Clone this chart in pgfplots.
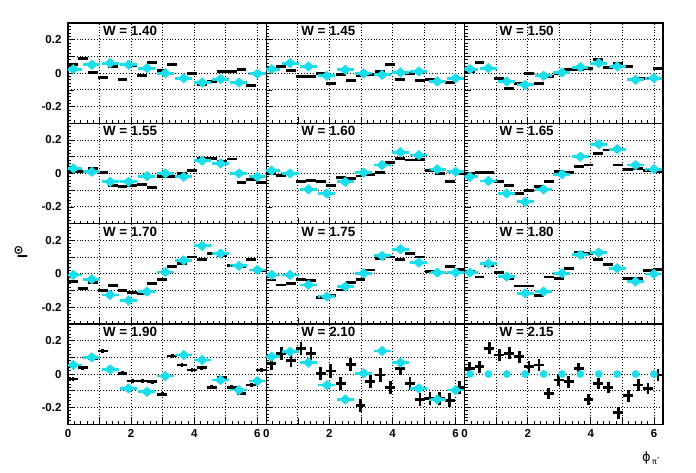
\documentclass[border=0pt]{standalone}
\usepackage{fontspec}
\setmainfont{Liberation Sans}
\newfontfamily\dejavu{DejaVu Sans}
\usepackage{pgfplots}
\pgfplotsset{compat=1.18}
\usepackage{pgfplotstable}
\usepgfplotslibrary{groupplots}

\definecolor{rootcyan}{RGB}{25,222,235}

% measured points, 20 bins in phi
\pgfplotstableread{
phi    w140   w145   w150   w155   w160   w165   w170   w175   w180   w190   w210   w215
0.157  0.054  0.030  0.010  0.010  0.000  0.000 -0.047 -0.037  0.013 -0.030  0.064  0.035
0.471  0.090  0.040  0.064  0.010 -0.010  0.007 -0.087 -0.067 -0.020  0.038  0.124  0.044
0.785  0.006  0.016  0.030  0.030  0.000  0.007 -0.050 -0.057  0.050  0.090  0.080  0.154
1.100 -0.024 -0.020 -0.030  0.006 -0.050 -0.050 -0.100 -0.033  0.007  0.138  0.154  0.114
1.414  0.040 -0.020 -0.090 -0.070 -0.040 -0.070 -0.070 -0.040 -0.027  0.030  0.124  0.124
1.728 -0.036  0.000 -0.060 -0.080 -0.050 -0.120 -0.100 -0.140 -0.073  0.004  0.004  0.104
2.042  0.045 -0.064 -0.004 -0.070 -0.070 -0.100 -0.110 -0.130 -0.073 -0.042  0.018  0.044
2.356 -0.016 -0.010 -0.064 -0.064 -0.025 -0.080 -0.120 -0.097 -0.130 -0.042 -0.056  0.054
2.670  0.064 -0.044 -0.020 -0.083 -0.030 -0.050 -0.057 -0.053 -0.020 -0.046  0.058 -0.116
2.985  0.018 -0.016  0.000 -0.020 -0.015  0.010 -0.033 -0.033 -0.027 -0.122 -0.190 -0.036
3.299  0.050 -0.010  0.020 -0.016 -0.005  0.005  0.043  0.023  0.033  0.108 -0.046 -0.046
3.613 -0.030  0.010  0.020  0.000  0.007  0.040  0.063  0.090  0.127  0.054 -0.006  0.034
3.927 -0.004  0.050  0.030  0.020  0.065  0.050  0.100  0.100  0.120  0.024 -0.080 -0.152
4.241 -0.070 -0.036  0.084  0.090  0.090  0.117  0.087  0.087  0.087  0.038  0.034 -0.056
4.555 -0.050  0.000  0.036  0.090  0.080  0.140  0.120  0.120  0.053 -0.080 -0.056 -0.080
4.869  0.012 -0.044  0.060  0.070  0.085  0.050  0.110  0.100  0.033 -0.022 -0.152 -0.232
5.184  0.008 -0.036  0.040  0.087  0.020  0.025  0.047  0.013 -0.027 -0.080 -0.146 -0.130
5.498  0.020 -0.050 -0.030 -0.055  0.000  0.030  0.040  0.007 -0.030 -0.116 -0.146 -0.066
5.812 -0.072 -0.056 -0.030 -0.035 -0.050  0.020  0.087  0.043  0.020 -0.066 -0.156 -0.086
6.126 -0.005 -0.030  0.030 -0.055  0.000  0.010  0.020  0.027  0.027  0.024 -0.080 -0.006
}\meas

% model points (cyan)
\pgfplotstableread{
phi    w140   w145   w150   w155   w160   w165   w170   w175   w180   w190   w210   w215
0.170  0.024  0.024  0.024  0.030  0.017 -0.020 -0.007 -0.007  0.007  0.054  0.104  0
0.753  0.050  0.060  0.030  0.010  0.000 -0.045 -0.033 -0.007  0.060  0.100  0.134  0
1.336  0.060  0.040 -0.050 -0.050 -0.095 -0.120 -0.127 -0.067 -0.017  0.028  0.068  0
1.919  0.050 -0.016 -0.070 -0.050 -0.120 -0.170 -0.160 -0.137 -0.117 -0.086 -0.066  0
2.502  0.030  0.020 -0.016 -0.016 -0.050 -0.095 -0.107 -0.077 -0.107 -0.106 -0.152  0
3.085  0.000 -0.002  0.004  0.000  0.005 -0.005  0.010  0.003  0.003 -0.012  0.004  0
3.668 -0.030 -0.010  0.036 -0.020  0.050  0.100  0.080  0.107  0.113  0.114  0.138  0
4.251 -0.056  0.004  0.060  0.076  0.127  0.175  0.167  0.147  0.127  0.084  0.068  0
4.834 -0.036  0.010  0.040  0.060  0.110  0.145  0.120  0.067  0.033 -0.036 -0.086  0
5.417 -0.056 -0.050 -0.040  0.000  0.025  0.050  0.047  0.007 -0.047 -0.096 -0.152  0
6.000 -0.004 -0.030 -0.030 -0.020  0.010  0.025  0.023  0.007 -0.001 -0.042 -0.096  0
}\model

\pgfplotsset{
  panel/.style={
    scale only axis, width=198.3pt, height=100.3pt,
    xmin=0, xmax=6.2832, ymin=-0.3, ymax=0.3,
    xtick={0,1,2,3,4,5,6}, ytick={-0.3,-0.2,-0.1,0,0.1,0.2,0.3},
    xticklabels={}, yticklabels={},
    minor x tick num=4, minor y tick num=4,
    tick pos=left, tick align=inside,
    major tick length=6pt, minor tick length=3pt,
    tick style={black, line width=0.7pt},
    grid=major, major grid style={black, line width=0.8pt, dash pattern=on 0.9pt off 2pt},
    axis line style={line width=1.3pt},
    ticklabel style={font=\fontsize{11.5}{12}\selectfont\bfseries},
    yticklabel style={xshift=-3pt},
    xticklabel style={yshift=-2pt},
  },
  ylab/.style={yticklabels={,-0.2,,0,,0.2,}},
  xlab/.style={xticklabels={0,,2,,4,,6}},
  modelbar/.style={rootcyan, only marks, mark=diamond*, mark size=4.8pt,
    mark options={xscale=1.5, fill=rootcyan, draw=rootcyan},
    error bars/.cd, x dir=both, x fixed=0.27,
    error bar style={line width=2.8pt, rootcyan}, error mark=none},
  modeldot/.style={rootcyan, only marks, mark=*, mark size=3.6pt,
    mark options={fill=rootcyan, draw=rootcyan}},
}

% #1 column, #2 W value, #3 axis extras, #4 y error, #5 model style
\newcommand{\panel}[5]{%
  \nextgroupplot[#3]
  \addplot[black, only marks, mark=*, mark size=0.5pt,
    error bars/.cd, x dir=both, x fixed=0.157, y dir=both, y fixed=#4,
    error bar style={line width=2.8pt, black}, error mark=none]
    table[x=phi, y=#1] {\meas};
  \addplot[#5] table[x=phi, y=#1] {\model};
  \node[font=\fontsize{13.4}{14}\selectfont\bfseries] at (rel axis cs:0.313,0.92) {W = #2};
  \coordinate (p#1) at (rel axis cs:0,1);
}

\begin{document}
\begin{tikzpicture}
\begin{groupplot}[group style={group size=3 by 4, horizontal sep=0pt, vertical sep=0pt}, panel]
\panel{w140}{1.40}{ylab}{0.006}{modelbar}
\panel{w145}{1.45}{}{0.006}{modelbar}
\panel{w150}{1.50}{}{0.006}{modelbar}
\panel{w155}{1.55}{ylab}{0.006}{modelbar}
\panel{w160}{1.60}{}{0.006}{modelbar}
\panel{w165}{1.65}{}{0.006}{modelbar}
\panel{w170}{1.70}{ylab}{0.008}{modelbar}
\panel{w175}{1.75}{}{0.008}{modelbar}
\panel{w180}{1.80}{}{0.008}{modelbar}
\panel{w190}{1.90}{ylab,xlab}{0.012}{modelbar}
\panel{w210}{2.10}{xlab}{0.04}{modelbar}
\panel{w215}{2.15}{xlab}{0.035}{modeldot}
\end{groupplot}
\path (pw140) ++(-47pt,-229pt) node[rotate=90, inner sep=0pt]
  {\fontsize{14}{14}\selectfont\bfseries I\raisebox{5pt}{\dejavu\bfseries\fontsize{12}{12}\selectfont ⊙}};
\path (pw140) ++(583pt,-435pt) node[inner sep=0pt]
  {\dejavu\fontsize{13}{13}\selectfont ϕ\raisebox{-3pt}{\fontsize{8}{8}\selectfont\,π\raisebox{4pt}{-}}};
\pgfresetboundingbox
\path[use as bounding box] (pw140) ++(-68pt,23pt) rectangle ++(696pt,-472pt);
\end{tikzpicture}
\end{document}
